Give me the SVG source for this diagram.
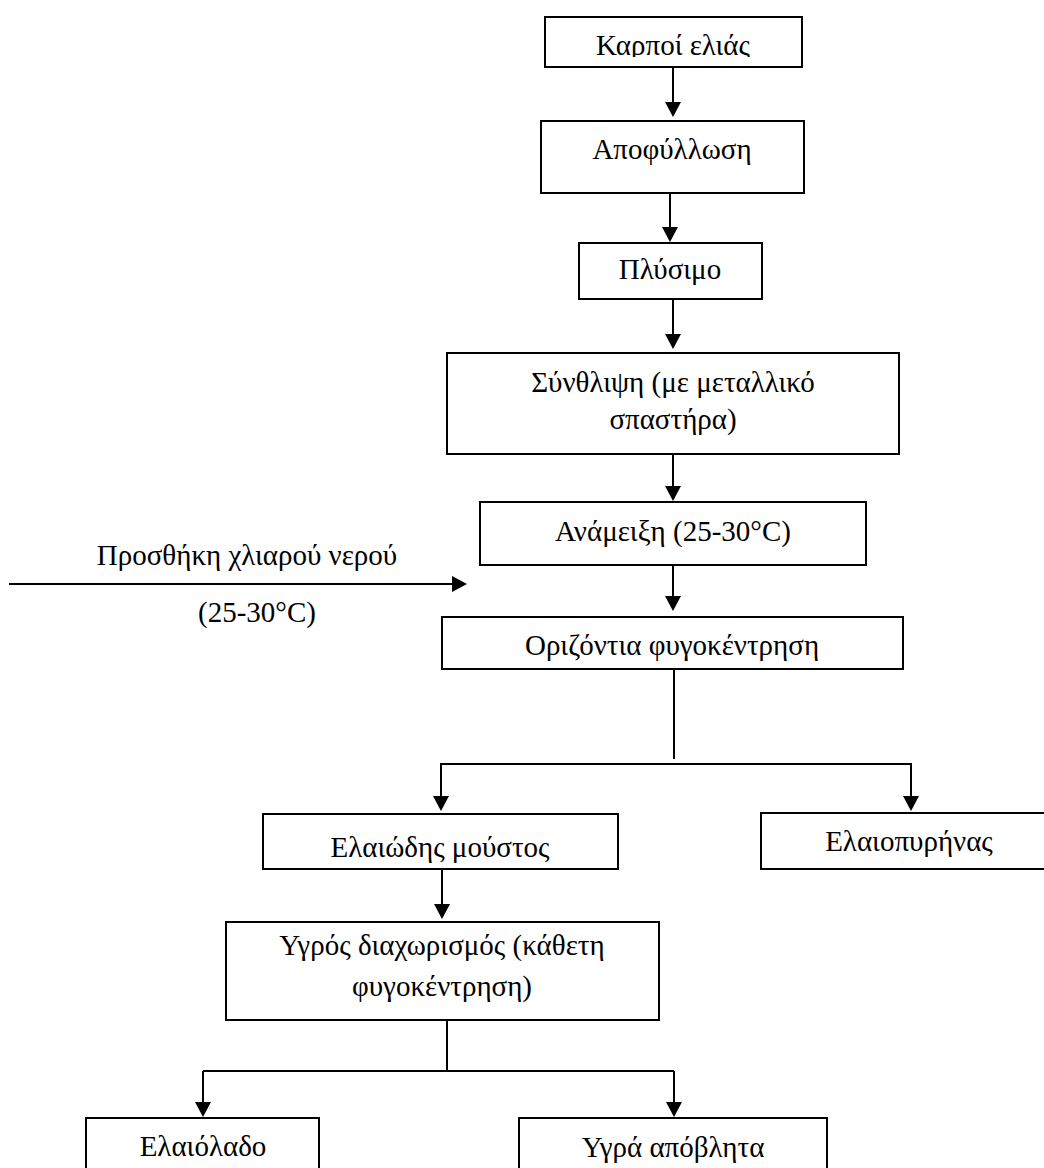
<svg xmlns="http://www.w3.org/2000/svg" width="1044" height="1168" viewBox="0 0 1044 1168">
<style>
.box{fill:#fff;stroke:#000;stroke-width:2}
.t{font-family:"Liberation Serif","Times New Roman",serif;font-size:29px;fill:#000;text-anchor:middle}
.c{fill:none;stroke:#000;stroke-width:2}
.a{fill:none;stroke:#000;stroke-width:2;marker-end:url(#ah)}
</style>
<defs>
<marker id="ah" markerUnits="userSpaceOnUse" markerWidth="16" markerHeight="18" refX="0" refY="8" orient="auto" overflow="visible">
<path d="M0,0 L15,8 L0,16 z" fill="#000"/>
</marker>
<clipPath id="clip1"><rect x="545" y="17" width="257" height="40"/></clipPath>
</defs>
<rect width="1044" height="1168" fill="#fff"/>
<g id="connectors">
<line class="a" x1="673" y1="67" x2="673" y2="102"/>
<line class="a" x1="670" y1="193" x2="670" y2="227"/>
<line class="a" x1="673" y1="299" x2="673" y2="334"/>
<line class="a" x1="673" y1="454" x2="673" y2="486"/>
<line class="a" x1="673" y1="565" x2="673" y2="596"/>
<line class="a" x1="9" y1="584" x2="452" y2="584"/>
<line class="c" x1="674" y1="669" x2="674" y2="759"/>
<polyline class="a" points="441,796 441,764 911,764 911,796" style="marker-end:none"/>
<line class="a" x1="441" y1="764" x2="441" y2="796"/>
<line class="a" x1="911" y1="764" x2="911" y2="796"/>
<line class="a" x1="442" y1="869" x2="442" y2="904"/>
<line class="c" x1="447" y1="1020" x2="447" y2="1071"/>
<line class="c" x1="203" y1="1071" x2="674" y2="1071"/>
<line class="a" x1="203" y1="1071" x2="203" y2="1102"/>
<line class="a" x1="674" y1="1071" x2="674" y2="1102"/>
</g>
<g id="label-water">
<text class="t" x="247" y="565">Προσθήκη χλιαρού νερού</text>
<text class="t" x="257" y="622">(25-30°C)</text>
</g>
<g id="n1"><rect class="box" x="545" y="17" width="257" height="50"/><text class="t" x="673" y="55" clip-path="url(#clip1)">Καρποί ελιάς</text></g>
<g id="n2"><rect class="box" x="541" y="121" width="263" height="72"/><text class="t" x="672" y="159">Αποφύλλωση</text></g>
<g id="n3"><rect class="box" x="579" y="243" width="183" height="56"/><text class="t" x="670" y="279">Πλύσιμο</text></g>
<g id="n4"><rect class="box" x="447" y="353" width="452" height="101"/><text class="t" x="673" y="392">Σύνθλιψη (με μεταλλικό</text><text class="t" x="673" y="429">σπαστήρα)</text></g>
<g id="n5"><rect class="box" x="480" y="502" width="386" height="63"/><text class="t" x="673" y="541">Ανάμειξη (25-30°C)</text></g>
<g id="n6"><rect class="box" x="442" y="617" width="461" height="52"/><text class="t" x="672" y="655">Οριζόντια φυγοκέντρηση</text></g>
<g id="n7"><rect class="box" x="263" y="814" width="355" height="55"/><text class="t" x="440" y="857">Ελαιώδης μούστος</text></g>
<g id="n8"><rect class="box" x="761" y="813" width="300" height="56"/><text class="t" x="909" y="851">Ελαιοπυρήνας</text></g>
<g id="n9"><rect class="box" x="226" y="922" width="433" height="98"/><text class="t" x="442" y="955">Υγρός διαχωρισμός (κάθετη</text><text class="t" x="442" y="996">φυγοκέντρηση)</text></g>
<g id="n10"><rect class="box" x="86" y="1118" width="233" height="60"/><text class="t" x="203" y="1156">Ελαιόλαδο</text></g>
<g id="n11"><rect class="box" x="519" y="1118" width="308" height="60"/><text class="t" x="673" y="1157">Υγρά απόβλητα</text></g>
</svg>
